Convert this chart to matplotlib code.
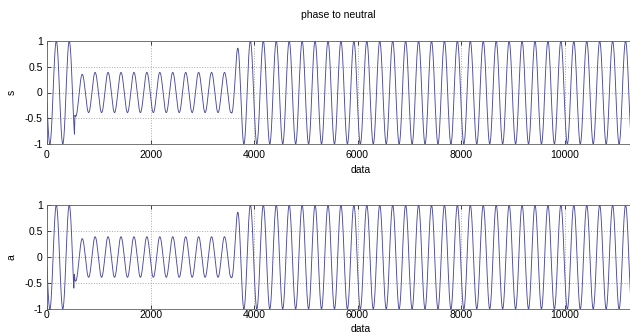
import numpy as np
import matplotlib
matplotlib.use('Agg')
import matplotlib.pyplot as plt

plt.rcParams['font.family'] = ['Liberation Sans', 'DejaVu Sans']
plt.rcParams['font.size'] = 7.5

# waveform: one cycle every ~250 samples,
# a peak at sample ~180, amplitude envelope given by breakpoints
n_samples = 11400
period = 250
peak_at = 180

env_t_s = [0, 530, 540, 3560, 3720, 11400]
env_a_s = [1.0, 1.0, 0.39, 0.39, 1.0, 1.0]
env_t_a = [0, 518, 528, 3560, 3720, 11400]
env_a_a = [1.0, 1.0, 0.39, 0.39, 1.0, 1.0]

# small dc shift right after the dip
dc_t = [0, 520, 540, 800, 11400]
dc_v = [0.0, 0.0, -0.08, 0.0, 0.0]

series = {'s': (env_t_s, env_a_s), 'a': (env_t_a, env_a_a)}

x_ticks = [0, 2000, 4000, 6000, 8000, 10000]
y_ticks = [-1, -0.5, 0, 0.5, 1]
line_color = '#4a4a9e'


def build(env_t, env_a):
    t = np.arange(n_samples)
    amp = np.interp(t, env_t, env_a)
    dc = np.interp(t, dc_t, dc_v) * (amp < 0.9)
    return t, amp * np.cos(2 * np.pi * (t - peak_at) / period) + dc


fig = plt.figure(figsize=(6.3, 3.33), dpi=100)
W, H = 630, 333
left, right = 47, 668
boxes = [(41, 144), (205, 309)]
label_y = [-0.2, -0.142]
x_pads = [4, 1]

for (name, (et, ea)), (top, bot), ly, xp in zip(series.items(), boxes, label_y, x_pads):
    ax = fig.add_axes([left / W, 1 - bot / H, (right - left) / W, (bot - top) / H])
    t, y = build(et, ea)
    ax.plot(t, y, color=line_color, lw=0.65)
    ax.set_xlim(0, 12000)
    ax.set_ylim(-1, 1)
    ax.set_xticks(x_ticks)
    ax.set_yticks(y_ticks)
    ax.set_yticklabels(['-1', '-0.5', '0', '0.5', '1'])
    ax.grid(True, linestyle=':', color='#a8a8a8', lw=0.7)
    ax.tick_params(direction='in', top=True, right=True, length=3, width=0.5,
                   colors='#000000', labelsize=7.5)
    ax.tick_params(axis='x', pad=xp)
    ax.tick_params(axis='y', pad=3)
    for sp in ax.spines.values():
        sp.set_color('#606060')
        sp.set_linewidth(0.6)
    ax.set_ylabel(name, fontsize=7.5)
    ax.yaxis.set_label_coords(-0.049, 0.5)
    ax.set_xlabel('data', fontsize=7.5)
    ax.xaxis.set_label_coords((361 - left) / (right - left), ly)

fig.text(338 / W, 1 - 15 / H, 'phase to neutral', ha='center', va='center', fontsize=7.5)

fig.savefig('out.png', dpi=100)
